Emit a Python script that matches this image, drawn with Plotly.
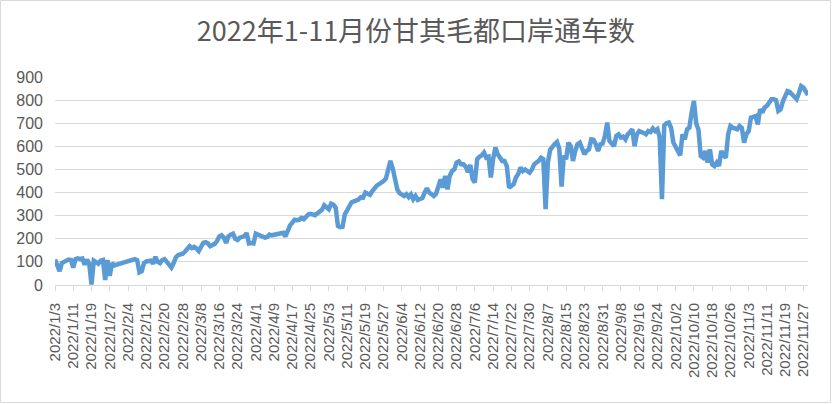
import pandas as pd
import plotly.graph_objects as go

# daily vehicle counts
# (1/30 - 2/6 missing: border closed over Spring Festival)
jan = [110, 85, 60, 95, 100, 108, 110, 108, 75, 112, 115, 112, 115, 88,
       110, 92, 2, 105, 100, 92, 105, 108, 22, 108, 40, 95, 85]          # from 1/3
feb = [112, 108, 55, 60, 95, 102, 105, 105, 92, 122, 100, 95, 108, 112,
       100, 90, 75, 95, 120, 130, 132, 135]                              # from 2/7
mar = [145, 155, 168, 160, 165, 158, 147, 165, 182, 185, 180, 168, 172, 178,
       190, 210, 215, 205, 182, 210, 218, 222, 200, 195, 205, 208, 212, 225,
       180, 182, 180]
apr = [222, 218, 212, 210, 205, 208, 218, 215, 218, 220, 222, 225, 226, 210,
       235, 258, 270, 282, 280, 282, 290, 285, 295, 305, 308, 305, 302, 310,
       315, 325]
may = [345, 335, 328, 352, 348, 335, 255, 250, 252, 305, 320, 335, 358, 362,
       365, 370, 380, 378, 400, 392, 390, 405, 420, 430, 436, 442, 450, 460,
       495, 537, 505]
jun = [455, 414, 398, 392, 385, 393, 380, 392, 371, 385, 368, 372, 376, 400,
       418, 400, 392, 385, 395, 421, 457, 421, 472, 414, 472, 493, 500, 530,
       535, 522]
jul = [522, 512, 488, 520, 458, 443, 544, 555, 561, 573, 551, 555, 465, 545,
       595, 566, 548, 537, 537, 515, 421, 428, 436, 465, 480, 508, 493, 500,
       495, 486, 500]
aug = [522, 530, 537, 551, 545, 328, 530, 585, 601, 610, 619, 590, 426, 560,
       544, 616, 601, 537, 580, 609, 616, 595, 566, 580, 587, 630, 628, 609,
       580, 609, 612]
sep = [645, 703, 623, 612, 601, 645, 652, 638, 642, 630, 652, 662, 674, 601,
       652, 666, 664, 658, 652, 666, 662, 677, 666, 674, 640, 371, 690, 700,
       703, 680]
oct = [616, 600, 585, 561, 652, 630, 674, 681, 746, 796, 700, 672, 558, 551,
       580, 530, 587, 522, 515, 530, 515, 580, 560, 551, 652, 688, 681, 678,
       674, 688, 680]
nov = [616, 652, 666, 724, 728, 731, 695, 760, 746, 768, 775, 795, 804, 804,
       800, 753, 760, 795, 820, 839, 835, 825, 811, 804, 830, 861, 854, 840,
       822]

# first date of each monthly block
starts = ["2022-01-03", "2022-02-07", "2022-03-01", "2022-04-01", "2022-05-01",
          "2022-06-01", "2022-07-01", "2022-08-01", "2022-09-01", "2022-10-01",
          "2022-11-01"]
blocks = [jan, feb, mar, apr, may, jun, jul, aug, sep, oct, nov]

dates, counts = [], []
for start, vals in zip(starts, blocks):
    dates += list(pd.date_range(start, periods=len(vals), freq="D"))
    counts += vals

title = "2022年1-11月份甘其毛都口岸通车数"
grey = "#595959"

fig = go.Figure(go.Scatter(
    x=dates,
    y=counts,
    mode="lines",
    line=dict(color="#5b9bd5", width=4.5),
    hoverinfo="x+y",
))

W, H = 832, 404
L, R, T, B = 55, 24, 77, 119
pw, ph = W - L - R, H - T - B

fig.update_layout(
    width=W,
    height=H,
    margin=dict(l=L, r=R, t=T, b=B),
    paper_bgcolor="white",
    plot_bgcolor="white",
    showlegend=False,
    title=dict(text=title, x=0.5, xref="container", y=1 - 32 / H,
               yref="container", yanchor="middle", xanchor="center",
               font=dict(family="Noto Sans CJK SC", size=27, color=grey)),
    xaxis=dict(
        type="date",
        range=[dates[0], dates[-1]],
        tick0="2022-01-03",
        dtick=8 * 86400000,
        tickformat="%Y/%-m/%-d",
        tickangle=-90,
        ticks="outside",
        ticklen=5,
        tickcolor="#d9d9d9",
        ticklabelstandoff=6,
        showline=True,
        linecolor="#d9d9d9",
        showgrid=False,
        zeroline=False,
        tickfont=dict(family="Liberation Sans", size=15, color=grey),
    ),
    yaxis=dict(
        range=[0, 900],
        dtick=100,
        gridcolor="#d9d9d9",
        zeroline=False,
        showline=False,
        ticks="",
        ticklabelstandoff=11,
        tickfont=dict(family="Liberation Sans", size=16, color=grey),
    ),
    shapes=[dict(type="rect", xref="paper", yref="paper",
                 x0=-(L - 0.5) / pw, x1=1 + (R - 1.5) / pw,
                 y0=-(B - 1.5) / ph, y1=1 + (T - 0.5) / ph,
                 line=dict(color="#d9d9d9", width=1))],
)

# drop the default page margin so the figure sits at the window corner
fig.write_html("out.html", config={"displayModeBar": False},
               post_script="document.body.style.margin='0';")
